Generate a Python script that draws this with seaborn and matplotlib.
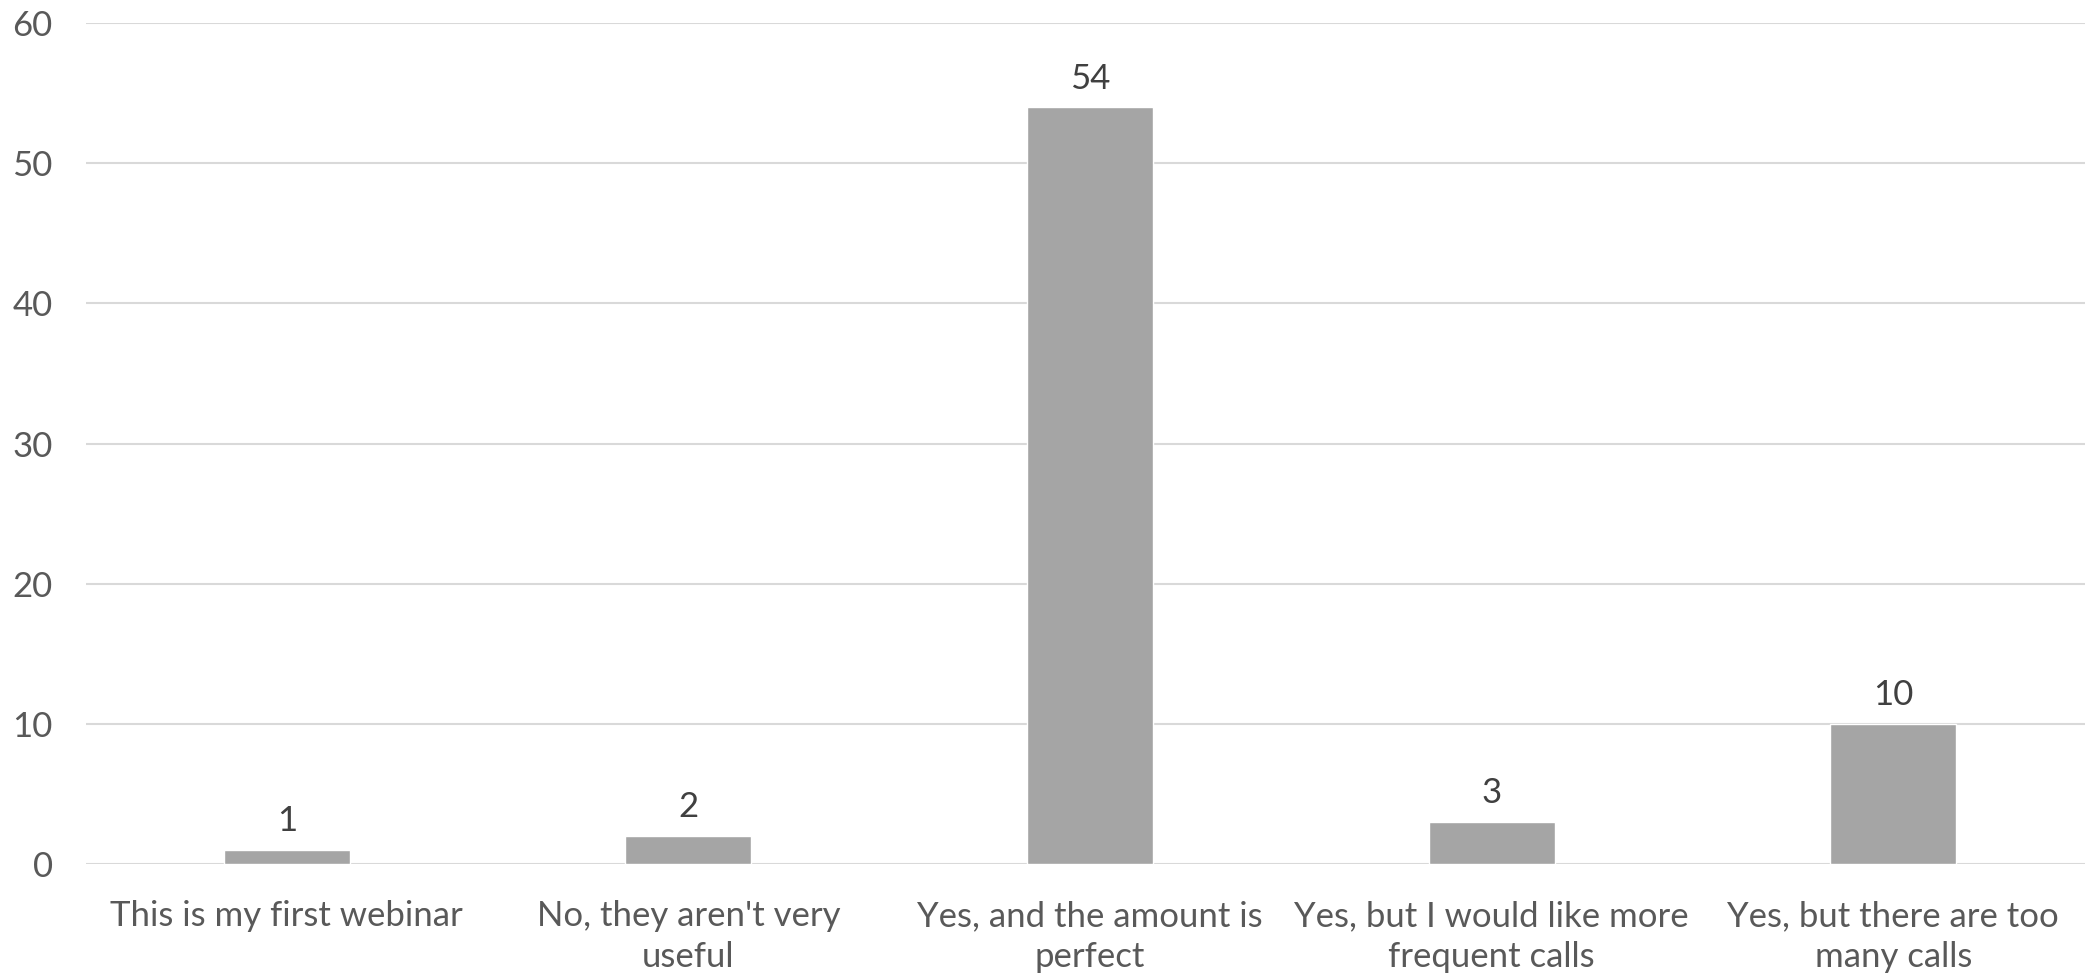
import matplotlib
matplotlib.use("Agg")
import matplotlib.pyplot as plt
import seaborn as sns
import pandas as pd

categories = [
    "This is my first webinar",
    "No, they aren't very\nuseful",
    "Yes, and the amount is\nperfect",
    "Yes, but I would like more\nfrequent calls",
    "Yes, but there are too\nmany calls",
]
values = [1, 2, 54, 3, 10]
y_ticks = [0, 10, 20, 30, 40, 50, 60]

sns.set_theme(style="white")
plt.rcParams['font.family'] = ['Lato', 'DejaVu Sans']

df = pd.DataFrame({"cat": categories, "val": values})

fig = plt.figure(figsize=(20.85, 9.77), dpi=100)
ax = fig.add_axes([86/2085, 1 - 864/977, (2094-86)/2085, (864-23)/977])

sns.barplot(data=df, x="cat", y="val", color="#A5A5A5", saturation=1,
            width=0.314, ax=ax, zorder=3)

ax.set_ylim(0, 60)
ax.set_yticks(y_ticks)
ax.set_yticklabels([str(t) for t in y_ticks], fontsize=25, color="#595959")
ax.yaxis.grid(True, color="#D9D9D9", linewidth=1.5, zorder=0)
ax.set_axisbelow(True)
for s in ax.spines.values():
    s.set_visible(False)
ax.tick_params(axis="y", length=0, pad=24)
ax.tick_params(axis="x", length=0, pad=26)
for lbl in ax.get_xticklabels():
    lbl.set_fontsize(25)
    lbl.set_color("#595959")
    lbl.set_linespacing(1.35)
ax.set_xlabel("")
ax.set_ylabel("")
ax.set_xlim(-0.5, 4.5)

for c in ax.containers:
    ax.bar_label(c, labels=[str(v) for v in values], padding=9,
                 fontsize=25, color="#404040")

fig.savefig("out.png", dpi=100)
